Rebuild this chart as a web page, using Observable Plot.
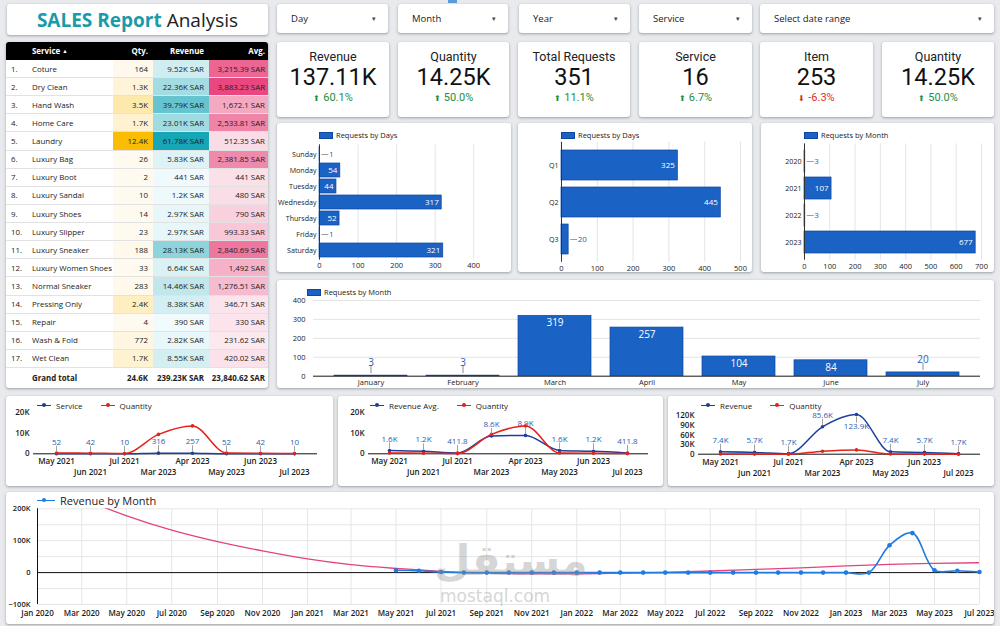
<!DOCTYPE html>
<html>
<head>
<meta charset="utf-8">
<title>SALES Report Analysis</title>
<script src="https://cdn.jsdelivr.net/npm/d3@7"></script>
<script src="https://cdn.jsdelivr.net/npm/@observablehq/plot@0.6"></script>
<style>
  html, body { margin: 0; padding: 0; background: #e8eaed; }
  #board { position: relative; width: 1000px; height: 626px; overflow: hidden; font-family: "Open Sans", sans-serif; color: #202124; }
  .card { position: absolute; background: #fff; border-radius: 3px; box-shadow: 0 1px 2px rgba(60,64,67,.30), 0 1px 3px 1px rgba(60,64,67,.10); overflow: hidden; }
  .card > figure, .card > svg { position: absolute; left: 0; top: 0; margin: 0; }
  .title { display: flex; align-items: center; justify-content: center; font-size: 19px; white-space: nowrap; }
  .title b { color: #1b9aaa; font-weight: 700; margin-right: 5px; }
  .filter .lbl { position: absolute; left: 14px; top: 50%; transform: translateY(-52%); font-size: 9.5px; color: #202124; }
  .filter .caret { position: absolute; right: 12px; top: 50%; transform: translateY(-55%); font-size: 7px; color: #444; }
  .kpi { font-family: Roboto, sans-serif; }
  .kpi .t { position: absolute; left: 0; right: 0; text-align: center; top: 7px; height: 15px; line-height: 15px; font-size: 12.5px; }
  .kpi .v { position: absolute; left: 0; right: 0; text-align: center; top: 22px; height: 27px; line-height: 27px; font-size: 23.5px; color: #111; }
  .kpi .d { position: absolute; left: 0; right: 0; text-align: center; top: 49px; height: 13px; line-height: 13px; font-size: 11px; }
  .kpi .d .ar { font-size: 8px; margin-right: 3px; }
  .legend { position: absolute; display: flex; align-items: center; gap: 3px; white-space: nowrap; font-size: 7.5px; color: #222; }
  .sw { display: inline-block; width: 14px; height: 7px; background: #1a62c4; box-sizing: border-box; border: 0.7px solid #0d47a1; }
  .lsym { position: relative; display: inline-block; width: 14px; height: 1.6px; background: var(--c); margin-right: 2px; }
  .lsym::after { content: ""; position: absolute; left: 5px; top: -1.3px; width: 4px; height: 4px; border-radius: 50%; background: var(--c); }
  .tbl .row { position: absolute; left: 0; width: 262px; box-sizing: border-box; border-bottom: 0.8px solid #e2e2e2; font-size: 7.9px; color: #222; }
  .tbl .c { position: absolute; top: 0; bottom: 0; display: flex; align-items: center; box-sizing: border-box; white-space: nowrap; }
  .tbl .r { justify-content: flex-end; }
  .tbl .hdr { background: #000; color: #fff; font-weight: 700; border-bottom: none; }
  .tbl .tot { font-weight: 700; border-bottom: none; }
  .wm { position: absolute; color: #8f8f8f; opacity: 0.36; font-family: "DejaVu Sans", sans-serif; pointer-events: none; line-height: 1; }
</style>
</head>
<body>
<div id="board"></div>
<script>
// ---------------- data ----------------
const filterLabels = ["Day", "Month", "Year", "Service", "Select date range"];

const kpiTitles = ["Revenue", "Quantity", "Total Requests", "Service", "Item", "Quantity"];
const kpiValues = ["137.11K", "14.25K", "351", "16", "253", "14.25K"];
const kpiChanges = [60.1, 50.0, 11.1, 6.7, -6.3, 50.0];

const services = ["Coture", "Dry Clean", "Hand Wash", "Home Care", "Laundry", "Luxury Bag", "Luxury Boot",
  "Luxury Sandal", "Luxury Shoes", "Luxury Slipper", "Luxury Sneaker", "Luxury Women Shoes", "Normal Sneaker",
  "Pressing Only", "Repair", "Wash & Fold", "Wet Clean"];
const serviceQty = [164, 1300, 3500, 1700, 12400, 26, 2, 10, 14, 23, 188, 33, 283, 2400, 4, 772, 1700];
const serviceRevenue = [9520, 22360, 39790, 23010, 61780, 5830, 441, 1200, 2970, 2970, 28130, 6640, 14460, 8380, 390, 2820, 8550];
const serviceAvg = [3215.39, 3883.23, 1672.1, 2533.81, 512.35, 2381.85, 441, 480, 790, 993.33, 2840.69, 1492, 1276.51, 346.71, 330, 231.62, 420.02];
const grandTotal = { qty: 24600, revenue: 239230, avg: 23840.62 };

const weekDays = ["Sunday", "Monday", "Tuesday", "Wednesday", "Thursday", "Friday", "Saturday"];
const requestsByDay = [1, 54, 44, 317, 52, 1, 321];
const quarters = ["Q1", "Q2", "Q3"];
const requestsByQuarter = [325, 445, 20];
const years = ["2020", "2021", "2022", "2023"];
const requestsByYear = [3, 107, 3, 677];
const monthNames = ["January", "February", "March", "April", "May", "June", "July"];
const requestsByMonth = [3, 3, 319, 257, 104, 84, 20];

const trendMonths = ["May 2021", "Jun 2021", "Jul 2021", "Mar 2023", "Apr 2023", "May 2023", "Jun 2023", "Jul 2023"];
const serviceCount = [52, 42, 10, 316, 257, 52, 42, 10];
const quantityByMonth = [400, 300, 100, 9400, 13500, 400, 300, 100];
const revenueAvgByMonth = [1600, 1200, 411.8, 8600, 8900, 1600, 1200, 411.8];
const revenueByMonth = [7400, 5700, 1700, 85600, 123900, 7400, 5700, 1700];

const revenueMonthKeys = ["2021-05", "2021-06", "2021-07", "2021-08", "2021-09", "2021-10", "2021-11", "2021-12",
  "2022-01", "2022-02", "2022-03", "2022-04", "2022-05", "2022-06", "2022-07", "2022-08", "2022-09", "2022-10",
  "2022-11", "2022-12", "2023-01", "2023-02", "2023-03", "2023-04", "2023-05", "2023-06", "2023-07"];
const revenueMonthValues = [7400, 5700, 1700, 0, 0, 0, 0, 0,
  0, 0, 0, 0, 0, 0, 0, 0, 0, 0,
  0, 0, 0, 0, 85600, 123900, 7400, 5700, 1700];

const trendLineKeys = ["2020-01", "2020-03", "2020-05", "2020-07", "2020-09", "2020-11", "2021-01", "2021-03",
  "2021-05", "2021-07", "2021-09", "2021-11", "2022-01", "2022-03", "2022-05", "2022-07", "2022-09", "2022-11",
  "2023-01", "2023-03", "2023-05", "2023-07"];
const trendLineValues = [298000, 233000, 178000, 133000, 97000, 68000, 43000, 25000,
  13000, 4000, -1500, -4000, -4000, -2000, 1000, 5000, 10000, 15000,
  21000, 26000, 29000, 31000];

// ---------------- helpers ----------------
const FONT = '"Open Sans", sans-serif';
const BAR = "#1a62c4", BAR_EDGE = "#0d47a1", LABEL_BLUE = "#2d5bb5";
const NAVY = "#1c3f9e", RED = "#e2231a";
const board = document.getElementById("board");

function card(x, y, w, h, cls = "") {
  const d = document.createElement("div");
  d.className = "card " + cls;
  Object.assign(d.style, { left: x + "px", top: y + "px", width: w + "px", height: h + "px" });
  board.appendChild(d);
  return d;
}
function el(parent, tag, cls, html) {
  const e = document.createElement(tag);
  if (cls) e.className = cls;
  if (html != null) e.innerHTML = html;
  parent.appendChild(e);
  return e;
}
const kfmt = d => d === 0 ? "0" : d3.format("~g")(d / 1000) + "K";
const valueLabel = v => v >= 1000 ? (v / 1000).toFixed(1) + "K" : String(v);

// short leader-line symbols for data labels
const hline = { draw(ctx, size) { const r = Math.sqrt(size / Math.PI); ctx.moveTo(-r, 0); ctx.lineTo(r, 0); } };
const vline = { draw(ctx, size) { const r = Math.sqrt(size / Math.PI); ctx.moveTo(0, -r); ctx.lineTo(0, r); } };

// ---------------- header ----------------
const tab = document.createElement("div");
Object.assign(tab.style, { position: "absolute", left: "448px", top: "0px", width: "9px", height: "3px", background: "#5b9be0" });
board.appendChild(tab);

const titleCard = card(7, 4, 261, 31, "title");
titleCard.innerHTML = "<b>SALES Report</b><span>Analysis</span>";

const filterBoxes = [[277, 111], [398, 110], [519, 111], [639, 113], [760, 234]];
filterLabels.forEach((lab, i) => {
  const c = card(filterBoxes[i][0], 4, filterBoxes[i][1], 29, "filter");
  el(c, "span", "lbl", lab);
  el(c, "span", "caret", "&#9662;");
});

const kpiBoxes = [[277, 112], [398, 111], [518, 112], [639, 113], [760, 113], [882, 112]];
kpiTitles.forEach((t, i) => {
  const c = card(kpiBoxes[i][0], 42, kpiBoxes[i][1], 75, "kpi");
  el(c, "div", "t", t);
  el(c, "div", "v", kpiValues[i]);
  const up = kpiChanges[i] >= 0;
  const d = el(c, "div", "d", `<span class="ar">${up ? "&#11014;" : "&#11015;"}</span>${kpiChanges[i].toFixed(1)}%`);
  d.style.color = up ? "#1e8e3e" : "#d93025";
});

// ---------------- service table ----------------
(function serviceTable() {
  const c = card(6, 42, 262, 346, "tbl");
  const qtyColor = d3.scaleLinear().domain([0, d3.max(serviceQty)]).range(["#fffaf0", "#fbbc04"]);
  const revColor = d3.scaleLinear().domain([0, d3.max(serviceRevenue)]).range(["#f2fbfc", "#17a6b6"]);
  const avgColor = d3.scaleLinear().domain([0, d3.max(serviceAvg)]).range(["#fdf3f6", "#e8487f"]);
  const fmtQty = v => v >= 1000 ? d3.format(".1f")(v / 1000) + "K" : String(v);
  const fmtRev = v => (v >= 1000 ? d3.format(".2~f")(v / 1000) + "K" : String(v)) + " SAR";
  const fmtAvg = v => d3.format(",.2~f")(v) + " SAR";
  const cols = [
    { left: 0, width: 26, pad: "0 0 0 5px" },
    { left: 26, width: 81, pad: "0 0 0 0" },
    { left: 107, width: 40, pad: "0 5px 0 0", right: true },
    { left: 147, width: 56, pad: "0 5px 0 0", right: true },
    { left: 203, width: 59, pad: "0 3px 0 0", right: true }
  ];
  function row(top, h, cls, cells, fills) {
    const r = el(c, "div", "row " + cls);
    r.style.top = top + "px"; r.style.height = h + "px";
    cells.forEach((txt, j) => {
      const k = el(r, "div", "c" + (cols[j].right ? " r" : ""), txt);
      Object.assign(k.style, { left: cols[j].left + "px", width: cols[j].width + "px", padding: cols[j].pad });
      if (fills && fills[j]) k.style.background = fills[j];
    });
  }
  row(0, 18, "hdr", ["", "Service&nbsp;<span style='font-size:5.5px'>&#9650;</span>", "Qty.", "Revenue", "Avg."]);
  const rh = 18.12;
  services.forEach((s, i) => {
    row(18 + i * rh, rh, "", [(i + 1) + ".", s, fmtQty(serviceQty[i]), fmtRev(serviceRevenue[i]), fmtAvg(serviceAvg[i])],
      [null, null, qtyColor(serviceQty[i]), revColor(serviceRevenue[i]), avgColor(serviceAvg[i])]);
  });
  row(18 + services.length * rh, 20, "tot", ["", "Grand total", fmtQty(grandTotal.qty), fmtRev(grandTotal.revenue), fmtAvg(grandTotal.avg)]);
})();

// ---------------- horizontal bar cards ----------------
function barCard(x, y, w, h, legend, cats, vals, o) {
  const c = card(x, y, w, h);
  const data = cats.map((k, i) => ({ k, v: vals[i] }));
  const maxV = d3.max(vals);
  const big = data.filter(d => d.v >= maxV * 0.08);
  const small = data.filter(d => d.v < maxV * 0.08);
  const chart = Plot.plot({
    width: w, height: h,
    marginLeft: o.ml, marginRight: o.mr, marginTop: o.mt, marginBottom: o.mb,
    style: { fontFamily: FONT, fontSize: "7.5px", color: "#222", background: "transparent" },
    x: { domain: [0, o.xMax] },
    y: { domain: cats, padding: o.pad },
    marks: [
      Plot.gridX({ ticks: o.ticks, stroke: "#e4e4e4", strokeOpacity: 1 }),
      Plot.barX(data, { x: "v", y: "k", fill: BAR, stroke: BAR_EDGE, strokeWidth: 0.7 }),
      Plot.ruleX([0], { stroke: "#333", strokeWidth: 1 }),
      Plot.axisX({ ticks: o.ticks, tickSize: 0, tickPadding: 3, label: null }),
      Plot.axisY({ tickSize: 0, tickPadding: 3, label: null, fontSize: 7.1 }),
      Plot.text(big, { x: "v", y: "k", text: d => String(d.v), textAnchor: "end", dx: -3, fill: "white", fontSize: 8 }),
      Plot.dot(small, { x: "v", y: "k", symbol: hline, r: 3.5, fill: "none", stroke: "#9e9e9e", strokeWidth: 1, dx: 5 }),
      Plot.text(small, { x: "v", y: "k", text: d => String(d.v), textAnchor: "start", dx: 9, fill: LABEL_BLUE, fontSize: 8 })
    ]
  });
  c.appendChild(chart);
  const lg = el(c, "div", "legend", `<span class="sw"></span><span>${legend}</span>`);
  lg.style.left = o.ml + "px"; lg.style.top = "7px";
}

barCard(277, 123, 234, 149, "Requests by Days", weekDays, requestsByDay,
  { ml: 42, mr: 5, mt: 21.4, mb: 12.4, pad: 0.15, xMax: 485, ticks: [0, 100, 200, 300, 400] });
barCard(518, 123, 234, 149, "Requests by Days", quarters, requestsByQuarter,
  { ml: 43, mr: 12, mt: 18.8, mb: 10.2, pad: 0.2, xMax: 500, ticks: [0, 100, 200, 300, 400, 500] });
barCard(761, 123, 233, 149, "Requests by Month", years, requestsByYear,
  { ml: 43, mr: 13, mt: 20.4, mb: 12.3, pad: 0.2, xMax: 700, ticks: [0, 100, 200, 300, 400, 500, 600, 700] });

// ---------------- requests by month (columns) ----------------
(function monthCard() {
  const w = 717, h = 108;
  const c = card(277, 280, w, h);
  const data = monthNames.map((m, i) => ({ m, v: requestsByMonth[i] }));
  const maxV = d3.max(requestsByMonth);
  const big = data.filter(d => d.v >= maxV * 0.15);
  const small = data.filter(d => d.v < maxV * 0.15);
  const ticks = [0, 100, 200, 300, 400];
  c.appendChild(Plot.plot({
    width: w, height: h, marginLeft: 36, marginRight: 14, marginTop: 20, marginBottom: 12.3,
    style: { fontFamily: FONT, fontSize: "7.5px", color: "#222", background: "transparent" },
    x: { domain: monthNames, padding: 0.21 },
    y: { domain: [0, 400] },
    marks: [
      Plot.gridY({ ticks, stroke: "#e4e4e4", strokeOpacity: 1 }),
      Plot.barY(data, { x: "m", y: "v", fill: BAR, stroke: BAR_EDGE, strokeWidth: 0.7 }),
      Plot.ruleY([0], { stroke: "#222" }),
      Plot.axisY({ ticks, tickSize: 0, tickPadding: 8, label: null }),
      Plot.axisX({ tickSize: 0, tickPadding: 3, label: null }),
      Plot.text(big, { x: "m", y: "v", text: d => String(d.v), dy: 7, fill: "white", fontSize: 10 }),
      Plot.dot(small, { x: "m", y: "v", symbol: vline, r: 3.5, fill: "none", stroke: "#8a8a8a", strokeWidth: 1, dy: -6 }),
      Plot.text(small, { x: "m", y: "v", text: d => String(d.v), dy: -13, fill: LABEL_BLUE, fontSize: 10 })
    ]
  }));
  const lg = el(c, "div", "legend", `<span class="sw"></span><span>Requests by Month</span>`);
  lg.style.left = "30px"; lg.style.top = "7px";
})();

// ---------------- small monthly line cards ----------------
function lineCard(x, w, names, blueVals, redVals, o) {
  const h = 90;
  const c = card(x, 396, w, h);
  const blue = blueVals.map((v, i) => ({ m: trendMonths[i], v, i }));
  const red = redVals.map((v, i) => ({ m: trendMonths[i], v }));
  const maxI = d3.maxIndex(blueVals);
  const above = o.flipMax ? blue.filter(d => d.i !== maxI) : blue;
  const below = o.flipMax ? blue.filter(d => d.i === maxI) : [];
  const evens = trendMonths.filter((_, i) => i % 2 === 0);
  const odds = trendMonths.filter((_, i) => i % 2 === 1);
  c.appendChild(Plot.plot({
    width: w, height: h, marginLeft: o.ml, marginRight: o.mr, marginTop: o.mt, marginBottom: h - o.base,
    style: { fontFamily: FONT, fontSize: "8px", color: "#1b1b1b", background: "transparent" },
    x: { type: "point", domain: trendMonths, padding: 0.6 },
    y: { domain: [0, o.yMax] },
    marks: [
      Plot.ruleY([0], { stroke: "#111", strokeWidth: 1 }),
      Plot.axisY({ ticks: o.ticks, tickFormat: kfmt, tickSize: 0, tickPadding: 4, label: null, fontWeight: 600 }),
      Plot.axisX({ ticks: evens, tickSize: 0, tickPadding: 5, label: null, fontWeight: 600 }),
      Plot.axisX({ ticks: odds, tickSize: 0, tickPadding: 16, label: null, fontWeight: 600 }),
      Plot.line(blue, { x: "m", y: "v", stroke: NAVY, strokeWidth: 1.5, curve: "monotone-x" }),
      Plot.dot(blue, { x: "m", y: "v", fill: NAVY, r: 1.8 }),
      Plot.line(red, { x: "m", y: "v", stroke: RED, strokeWidth: 1.5, curve: "monotone-x" }),
      Plot.dot(red, { x: "m", y: "v", fill: RED, r: 1.8 }),
      Plot.dot(above, { x: "m", y: "v", symbol: vline, r: 3, fill: "none", stroke: "#8a8a8a", strokeWidth: 0.8, dy: -5 }),
      Plot.text(above, { x: "m", y: "v", text: d => valueLabel(d.v), dy: -11.5, fill: LABEL_BLUE, fontSize: 8 }),
      Plot.dot(below, { x: "m", y: "v", symbol: vline, r: 3, fill: "none", stroke: "#8a8a8a", strokeWidth: 0.8, dy: 5 }),
      Plot.text(below, { x: "m", y: "v", text: d => valueLabel(d.v), dy: 12, fill: LABEL_BLUE, fontSize: 8 })
    ]
  }));
  const lg = el(c, "div", "legend",
    `<span class="lsym" style="--c:${NAVY}"></span><span>${names[0]}</span>` +
    `<span style="width:12px"></span><span class="lsym" style="--c:${RED}"></span><span>${names[1]}</span>`);
  lg.style.left = o.lgx + "px"; lg.style.top = "4px"; lg.style.fontSize = "8px";
}

lineCard(6, 327, ["Service", "Quantity"], serviceCount, quantityByMonth,
  { ml: 27, mr: 16, mt: 16, base: 57.3, yMax: 20000, ticks: [0, 10000, 20000], lgx: 31 });
lineCard(338, 325, ["Revenue Avg.", "Quantity"], revenueAvgByMonth, quantityByMonth,
  { ml: 30, mr: 15, mt: 16, base: 57.3, yMax: 20000, ticks: [0, 10000, 20000], lgx: 32 });
lineCard(668, 326, ["Revenue", "Quantity"], revenueByMonth, quantityByMonth,
  { ml: 30, mr: 14, mt: 19.3, base: 57.7, yMax: 120000, ticks: [0, 30000, 60000, 90000, 120000], lgx: 33, flipMax: true });

// ---------------- revenue by month (timeline) ----------------
(function revenueCard() {
  const w = 988, h = 132;
  const c = card(6, 492, w, h);
  const parse = d3.utcParse("%Y-%m");
  const rev = revenueMonthKeys.map((k, i) => ({ date: parse(k), v: revenueMonthValues[i] }));
  const trend = trendLineKeys.map((k, i) => ({ date: parse(k), v: trendLineValues[i] }));
  const start = parse("2020-01"), end = parse("2023-07");
  const BLUE = "#1f7be0", PINK = "#e4437d";
  const w1 = el(c, "div", "wm", "مستقل");
  Object.assign(w1.style, { left: "428px", top: "48px", fontSize: "42px", fontWeight: "700" });
  const w2 = el(c, "div", "wm", "mostaql.com");
  Object.assign(w2.style, { left: "434px", top: "96px", fontSize: "17px" });
  const svg = Plot.plot({
    width: w, height: h, marginLeft: 31, marginRight: 15, marginTop: 16.3, marginBottom: 20,
    style: { fontFamily: FONT, fontSize: "8px", color: "#1b1b1b", background: "transparent" },
    x: { type: "utc", domain: [start, end] },
    y: { domain: [-100000, 200000] },
    marks: [
      Plot.gridX({ ticks: d3.utcMonth.every(2), stroke: "#e6e6e6", strokeOpacity: 1 }),
      Plot.gridY({ ticks: [-100000, -50000, 0, 50000, 100000, 150000, 200000], stroke: "#e6e6e6", strokeOpacity: 1 }),
      Plot.ruleY([0], { stroke: "#111" }),
      Plot.ruleX([start], { stroke: "#111" }),
      Plot.axisY({ ticks: [-100000, 0, 100000, 200000], tickFormat: kfmt, tickSize: 0, tickPadding: 7, label: null, fontWeight: 600, fontSize: 7.5 }),
      Plot.axisX({ ticks: d3.utcMonth.every(2), tickFormat: d3.utcFormat("%b %Y"), tickSize: 0, tickPadding: 6, label: null, fontWeight: 600 }),
      Plot.line(trend, { x: "date", y: "v", stroke: PINK, strokeWidth: 1.3, curve: "monotone-x", clip: true }),
      Plot.line(rev, { x: "date", y: "v", stroke: BLUE, strokeWidth: 1.6, curve: "catmull-rom" }),
      Plot.dot(rev, { x: "date", y: "v", fill: BLUE, r: 2.3 })
    ]
  });
  c.insertBefore(svg, w1);
  const lg = el(c, "div", "legend", `<span class="lsym" style="--c:${BLUE};width:18px"></span><span>Revenue by Month</span>`);
  lg.style.left = "31px"; lg.style.top = "1px"; lg.style.fontSize = "11px";
})();
</script>
</body>
</html>
